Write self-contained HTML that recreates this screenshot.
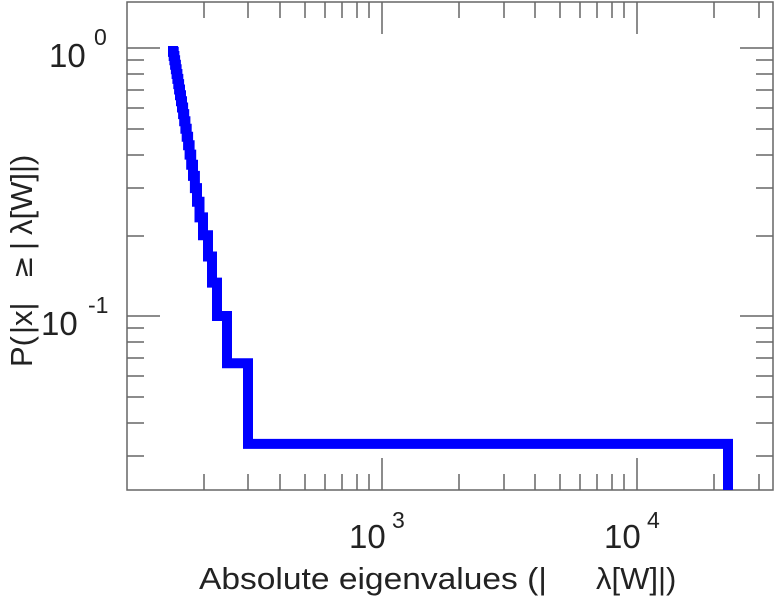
<!DOCTYPE html>
<html><head><meta charset="utf-8"><style>
html,body{margin:0;padding:0;background:#fff;}
svg{display:block;font-family:"Liberation Sans",sans-serif;}
</style></head><body>
<svg width="775" height="600" viewBox="0 0 775 600" xmlns="http://www.w3.org/2000/svg">
<defs><clipPath id="c"><rect x="127" y="2" width="646" height="488"/></clipPath></defs>
<g stroke="#666" stroke-width="1.5" fill="none">
<rect x="127" y="2" width="646" height="488"/>
<path d="
M204,490v-16M248,490v-16M280,490v-16M305,490v-16M325,490v-16M342,490v-16M357,490v-16M369,490v-16M382,490v-32
M459,490v-16M504,490v-16M535,490v-16M560,490v-16M580,490v-16M597,490v-16M612,490v-16M624,490v-16M637,490v-32
M714,490v-16M759,490v-16
M204,2v16M248,2v16M280,2v16M305,2v16M325,2v16M342,2v16M357,2v16M369,2v16M382,2v32
M459,2v16M504,2v16M535,2v16M560,2v16M580,2v16M597,2v16M612,2v16M624,2v16M637,2v32
M714,2v16M759,2v16"/>
<path d="
M127,48h33M127,60h17M127,74h17M127,90h17M127,108h17M127,129h17M127,155h17M127,188h17M127,236h17M127,316h33M127,328h17M127,342h17M127,358h17M127,376h17M127,397h17M127,423h17M127,456h17
M773,48h-33M773,60h-17M773,74h-17M773,90h-17M773,108h-17M773,129h-17M773,155h-17M773,188h-17M773,236h-17M773,316h-33M773,328h-17M773,342h-17M773,358h-17M773,376h-17M773,397h-17M773,423h-17M773,456h-17"/>
</g>
<path clip-path="url(#c)" fill="none" stroke="#0000ff" stroke-width="10" stroke-linejoin="miter" d="M173,46 V51.9 H173.7 V56 H174.4 V60.3 H175.1 V64.7 H175.9 V69.2 H176.6 V74 H177.4 V78.9 H178.3 V84.1 H179.1 V89.5 H180 V95.2 H181 V101.2 H182 V107.5 H183.1 V114.1 H184.2 V121.2 H185.4 V128.7 H186.7 V136.7 H188.1 V145.3 H189.6 V154.6 H191.2 V164.8 H193 V175.9 H194.9 V188.1 H197 V201.8 H199.5 V217.4 H203 V235.3 H208 V256.5 H212 V282.6 H217 V316 H227 V363.2 H248 V443.9 H728 V495"/>
<g fill="#222" font-size="33">
<text x="49" y="67">10</text><text x="94" y="45" font-size="23">0</text>
<text x="41" y="335">10</text><text x="88" y="313" font-size="23">-1</text>
<text x="349" y="548">10</text><text x="392" y="528" font-size="23">3</text>
<text x="604" y="548">10</text><text x="647" y="528" font-size="23">4</text>
</g>
<g fill="#222" font-size="31">
<text x="199" y="589" textLength="348" lengthAdjust="spacingAndGlyphs">Absolute eigenvalues (|</text>
<text x="596" y="589">λ[W]|)</text>
<g transform="translate(32,367) rotate(-90)">
<text x="0" y="0">P(</text>
<text x="33" y="0">|x|</text>
<text x="88" y="0" font-family="DejaVu Sans" font-size="28">≥</text>
<text x="117" y="0">|</text>
<text x="132" y="0">λ[W]|)</text>
</g>
</g>
</svg>
</body></html>
